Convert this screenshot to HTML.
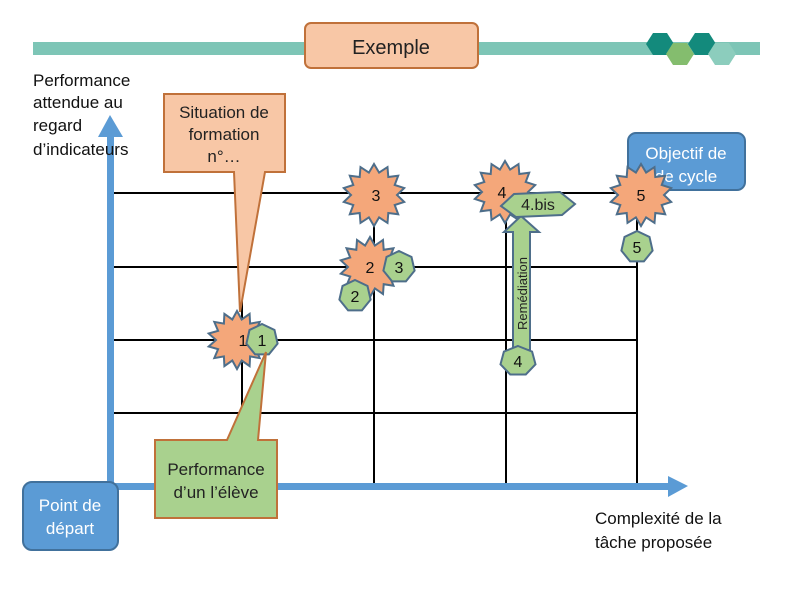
<!DOCTYPE html>
<html><head><meta charset="utf-8"><style>
body{margin:0;background:#fff;}
svg{display:block;font-family:"Liberation Sans",sans-serif;}
</style></head><body>
<svg id="s" width="794" height="595" viewBox="0 0 794 595" xmlns="http://www.w3.org/2000/svg">
<rect x="33" y="42" width="727" height="13" fill="#7dc5b6"/>
<polygon points="646,44 653,33 667,33 674,44 667,55 653,55" fill="#138a7c"/>
<polygon points="666,54 673,43 687,43 694,54 687,65 673,65" fill="#84bd6e"/>
<polygon points="688,44 695,33 709,33 716,44 709,55 695,55" fill="#138a7c"/>
<polygon points="708,54 715,43 729,43 736,54 729,65 715,65" fill="#8ccdbd"/>
<rect x="305" y="23" width="173" height="45" rx="6" fill="#f8c7a6" stroke="#c0713a" stroke-width="2"/>
<text x="391" y="54" font-size="20" text-anchor="middle" fill="#222">Exemple</text>
<g stroke="#000" stroke-width="2">
<line x1="110" y1="193" x2="637" y2="193"/>
<line x1="110" y1="267" x2="637" y2="267"/>
<line x1="110" y1="340" x2="637" y2="340"/>
<line x1="110" y1="413" x2="637" y2="413"/>
<line x1="242" y1="193" x2="242" y2="486"/>
<line x1="374" y1="193" x2="374" y2="486"/>
<line x1="506" y1="193" x2="506" y2="486"/>
<line x1="637" y1="193" x2="637" y2="486"/>
</g>
<rect x="107" y="135" width="7" height="355" fill="#5b9bd5"/>
<polygon points="98,137 110,115 123,137" fill="#5b9bd5"/>
<rect x="107" y="483" width="563" height="7" fill="#5b9bd5"/>
<polygon points="668,476 688,486 668,497" fill="#5b9bd5"/>
<g font-size="17" fill="#111">
<text x="33" y="86">Performance</text>
<text x="33" y="108">attendue au</text>
<text x="33" y="131">regard</text>
<text x="33" y="155">d’indicateurs</text>
<text x="595" y="524">Complexité de la</text>
<text x="595" y="548">tâche proposée</text>
</g>
<polygon points="164,94 285,94 285,172 265,172 240,312 234,172 164,172" fill="#f8c7a6" stroke="#c0713a" stroke-width="2"/>
<g font-size="17" fill="#222" text-anchor="middle">
<text x="224" y="118">Situation de</text>
<text x="224" y="140">formation</text>
<text x="224" y="162">n°…</text>
</g>
<g id="stars" fill="#f4a77a" stroke="#4e6e8a" stroke-width="2"></g>
<rect x="628" y="133" width="117" height="57" rx="8" fill="#5b9bd5" stroke="#41719c" stroke-width="2"/>
<g font-size="17" fill="#fff" text-anchor="middle">
<text x="686" y="159">Objectif de</text>
<text x="686" y="182">de cycle</text>
</g>
<g id="stars2" fill="#f4a77a" stroke="#4e6e8a" stroke-width="2"></g>
<polygon points="513,350 513,232 504,232 521,216 539,232 530,232 530,350" fill="#a9d18e" stroke="#4e6e8a" stroke-width="2"/>
<text transform="translate(527,330) rotate(-90)" font-size="13" fill="#222">Remédiation</text>
<g id="hep" fill="#a9d18e" stroke="#4e6e8a" stroke-width="2"></g>
<polygon points="501,206 514,194 560,192 575,204 562,215 516,217" fill="#a9d18e" stroke="#4e6e8a" stroke-width="2"/>
<text x="538" y="210" font-size="16" text-anchor="middle" fill="#222">4.bis</text>
<polygon points="155,440 227,440 266,352 258,440 277,440 277,518 155,518" fill="#a9d18e" stroke="#c0713a" stroke-width="2"/>
<g font-size="17" fill="#222" text-anchor="middle">
<text x="216" y="475">Performance</text>
<text x="216" y="498">d’un l’élève</text>
</g>
<rect x="23" y="482" width="95" height="68" rx="9" fill="#5b9bd5" stroke="#41719c" stroke-width="2"/>
<g font-size="17" fill="#fff" text-anchor="middle">
<text x="70" y="511">Point de</text>
<text x="70" y="534">départ</text>
</g>
<g id="labels" font-size="16" fill="#111" text-anchor="middle"></g>
</svg>
<script>
var NS="http://www.w3.org/2000/svg";
function star(g,cx,cy,R,r){var n=14,p=[];for(var i=0;i<2*n;i++){var a=Math.PI*i/n-Math.PI/2,rr=i%2?r:R;p.push((cx+rr*Math.cos(a)).toFixed(1)+","+(cy+rr*Math.sin(a)).toFixed(1));}
var e=document.createElementNS(NS,"polygon");e.setAttribute("points",p.join(" "));document.getElementById(g).appendChild(e);}
function hep(cx,cy,rx,ry){var p=[];for(var i=0;i<7;i++){var a=2*Math.PI*i/7-Math.PI/2;p.push((cx+rx*Math.cos(a)).toFixed(1)+","+(cy+ry*Math.sin(a)).toFixed(1));}
var e=document.createElementNS(NS,"polygon");e.setAttribute("points",p.join(" "));document.getElementById("hep").appendChild(e);}
function lab(x,y,t){var e=document.createElementNS(NS,"text");e.setAttribute("x",x);e.setAttribute("y",y);e.textContent=t;document.getElementById("labels").appendChild(e);}
star("stars",374,195,31,23);star("stars",505,192,31,23);star("stars",370,267,30,22);star("stars",237,340,29,21);
star("stars2",641,195,31,23);
hep(262,340,16,16);hep(399,267,16,16);hep(355,296,16,16);hep(518,361,18,15);hep(637,247,16,16);
lab(376,201,"3");lab(502,198,"4");lab(370,273,"2");lab(243,346,"1");lab(641,201,"5");
lab(262,346,"1");lab(399,273,"3");lab(355,302,"2");lab(518,367,"4");lab(637,253,"5");
</script>
</body></html>
